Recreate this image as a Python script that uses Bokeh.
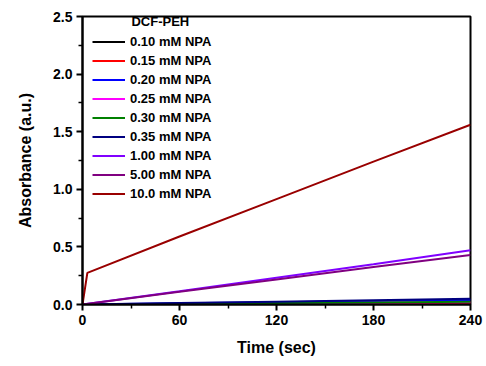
from bokeh.plotting import figure
from bokeh.models import Legend, LegendItem, Label, Range1d, FixedTicker, CustomJSTickFormatter
from bokeh.embed import file_html
from bokeh.resources import INLINE

# Data
labels = ["0.10 mM NPA", "0.15 mM NPA", "0.20 mM NPA", "0.25 mM NPA", "0.30 mM NPA",
          "0.35 mM NPA", "1.00 mM NPA", "5.00 mM NPA", "10.0 mM NPA"]
colors = ["#000000", "#FF0000", "#0000FF", "#FF00FF", "#008000",
          "#000080", "#8000FF", "#800080", "#990000"]
t_lin = [0, 60, 120, 180, 240]
y_010 = [0.0, 0.003, 0.006, 0.009, 0.012]
y_015 = [0.0, 0.004, 0.008, 0.012, 0.016]
y_020 = [0.0, 0.010, 0.020, 0.030, 0.040]
y_025 = [0.0, 0.005, 0.010, 0.015, 0.020]
y_030 = [0.0, 0.006, 0.012, 0.018, 0.024]
y_035 = [0.0, 0.012, 0.024, 0.037, 0.050]
y_100 = [0.0, 0.115, 0.232, 0.350, 0.470]
y_500 = [0.0, 0.110, 0.218, 0.325, 0.430]
t_10 = [0, 3, 60, 120, 180, 240]
y_10 = [0.0, 0.275, 0.59, 0.915, 1.24, 1.56]

series = [y_010, y_015, y_020, y_025, y_030, y_035, y_100, y_500]

x_ticks = [0, 60, 120, 180, 240]
y_ticks = [0.0, 0.5, 1.0, 1.5, 2.0, 2.5]

FONT = "Liberation Sans"

p = figure(width=486, height=366, output_backend="svg", toolbar_location=None,
           x_range=Range1d(0, 240), y_range=Range1d(0, 2.5),
           min_border_left=82, min_border_right=16, min_border_top=16, min_border_bottom=62)
p.background_fill_color = "white"
p.border_fill_color = "white"
p.grid.visible = False
p.outline_line_color = "black"
p.outline_line_width = 2

renderers = []
for ys, c in zip(series, colors[:8]):
    renderers.append(p.line(t_lin, ys, line_color=c, line_width=2))
renderers.append(p.line(t_10, y_10, line_color=colors[8], line_width=2))

for ax in (p.xaxis[0], p.yaxis[0]):
    ax.axis_line_width = 2
    ax.major_tick_line_width = 2
    ax.minor_tick_line_width = 1.5
    ax.major_tick_out = 6
    ax.major_tick_in = 0
    ax.minor_tick_out = 4
    ax.minor_tick_in = 0
    ax.major_label_text_font = FONT
    ax.major_label_text_font_style = "bold"
    ax.major_label_text_font_size = "14px"
    ax.major_label_text_color = "black"
    ax.axis_label_text_font = FONT
    ax.axis_label_text_font_style = "bold"
    ax.axis_label_text_font_size = "16px"
    ax.axis_label_text_color = "black"

p.xaxis.ticker = FixedTicker(ticks=x_ticks, minor_ticks=[30, 90, 150, 210])
p.yaxis.ticker = FixedTicker(ticks=y_ticks, minor_ticks=[0.25, 0.75, 1.25, 1.75, 2.25])
p.yaxis.formatter = CustomJSTickFormatter(code="return tick.toFixed(1);")
p.xaxis.axis_label = "Time (sec)"
p.yaxis.axis_label = "Absorbance (a.u.)"
p.xaxis.major_label_standoff = 4
p.yaxis.major_label_standoff = 4
p.xaxis.axis_label_standoff = 11
p.yaxis.axis_label_standoff = 16

items = [LegendItem(label=l, renderers=[r]) for l, r in zip(labels, renderers)]
legend = Legend(items=items, location=(0, 91), padding=10, margin=0, spacing=0,
                label_height=19, glyph_height=19, glyph_width=33, label_standoff=5,
                label_text_font=FONT, label_text_font_style="bold",
                label_text_font_size="13px", label_text_color="black",
                border_line_alpha=0, background_fill_alpha=0)
p.add_layout(legend, "center")

p.add_layout(Label(x=30.3, y=2.457, text="DCF-PEH", text_font=FONT, text_font_style="bold",
                   text_font_size="13px", text_baseline="middle", text_color="black"))

open("out.html", "w").write(file_html(p, INLINE))
